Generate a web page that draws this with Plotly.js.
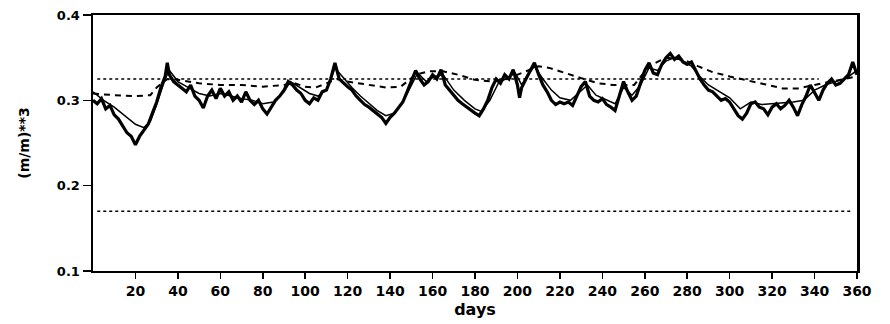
<!DOCTYPE html>
<html>
<head>
<meta charset="utf-8">
<script src="https://cdn.plot.ly/plotly-3.0.1.min.js"></script>
<style>html,body{margin:0;padding:0;background:#fff;}#chart{width:890px;height:324px;}</style>
</head>
<body>
<div id="chart"></div>
<script>
// Observed soil moisture (thick line)
const obsDays = [0,2,4,6,8,10,12,14,16,18,20,22,24,26,28,30,32,34,35,36,38,40,42,44,46,48,50,52,54,56,58,60,62,64,66,68,70,72,74,76,78,80,82,84,86,88,90,92,94,96,98,100,102,104,106,108,110,112,114,116,118,120,122,124,126,128,130,132,134,136,138,140,142,144,146,148,150,152,154,156,158,160,162,164,166,168,170,172,174,176,178,180,182,184,186,188,190,192,194,196,198,200,201,202,204,206,208,210,212,214,216,218,220,222,224,226,228,230,232,234,236,238,240,242,244,246,248,250,252,254,256,258,260,262,264,266,268,270,272,274,276,278,280,282,284,286,288,290,292,294,296,298,300,302,304,306,308,310,312,314,316,318,320,322,324,326,328,330,332,334,336,338,340,342,344,346,348,350,352,354,356,358,360];
const obsVals = [0.300,0.296,0.302,0.290,0.294,0.283,0.278,0.270,0.262,0.258,0.248,0.258,0.265,0.272,0.285,0.298,0.315,0.328,0.344,0.330,0.322,0.318,0.315,0.310,0.318,0.305,0.300,0.291,0.305,0.312,0.302,0.314,0.305,0.310,0.300,0.305,0.298,0.310,0.300,0.295,0.300,0.290,0.284,0.292,0.300,0.305,0.312,0.322,0.318,0.312,0.308,0.300,0.296,0.303,0.300,0.310,0.312,0.325,0.344,0.325,0.320,0.316,0.312,0.305,0.300,0.295,0.292,0.288,0.284,0.280,0.273,0.280,0.285,0.292,0.298,0.310,0.322,0.335,0.325,0.318,0.322,0.330,0.325,0.336,0.318,0.312,0.305,0.300,0.296,0.292,0.288,0.285,0.282,0.290,0.300,0.315,0.325,0.320,0.330,0.325,0.336,0.318,0.303,0.315,0.325,0.335,0.344,0.330,0.318,0.310,0.300,0.295,0.298,0.296,0.298,0.294,0.305,0.316,0.322,0.305,0.300,0.298,0.302,0.295,0.292,0.288,0.305,0.322,0.310,0.300,0.305,0.320,0.335,0.344,0.332,0.330,0.342,0.350,0.355,0.348,0.352,0.345,0.342,0.345,0.335,0.325,0.318,0.312,0.310,0.305,0.300,0.302,0.298,0.290,0.282,0.278,0.285,0.296,0.298,0.292,0.290,0.283,0.292,0.296,0.290,0.294,0.300,0.292,0.282,0.295,0.305,0.318,0.308,0.300,0.312,0.320,0.325,0.318,0.320,0.325,0.330,0.345,0.330];

// Model 1 (thin solid line)
const modelADays = [0,5,10,15,20,24,27,30,34,36,40,45,50,55,60,65,70,75,80,85,90,93,97,102,106,110,114,118,122,126,130,134,138,142,146,150,153,157,161,165,170,175,180,183,187,191,195,199,202,205,208,212,216,220,225,230,233,237,242,246,250,254,258,262,266,270,274,278,282,286,290,295,300,305,310,315,320,325,330,335,340,345,350,355,360];
const modelAVals = [0.310,0.300,0.292,0.282,0.272,0.268,0.275,0.295,0.325,0.335,0.322,0.315,0.308,0.305,0.308,0.305,0.302,0.300,0.296,0.298,0.310,0.322,0.316,0.308,0.305,0.312,0.338,0.326,0.315,0.305,0.296,0.288,0.282,0.285,0.298,0.318,0.332,0.322,0.328,0.330,0.312,0.300,0.290,0.287,0.300,0.320,0.326,0.332,0.318,0.330,0.340,0.325,0.312,0.303,0.300,0.312,0.318,0.306,0.300,0.296,0.315,0.306,0.318,0.338,0.335,0.346,0.350,0.346,0.340,0.328,0.318,0.310,0.303,0.290,0.298,0.295,0.296,0.297,0.298,0.300,0.312,0.318,0.322,0.326,0.335];

// Model 2 (dashed line)
const modelBDays = [0,10,20,27,30,35,40,50,60,70,80,90,95,100,105,112,115,120,130,138,145,152,158,165,172,180,188,195,205,210,215,222,230,238,245,255,262,270,278,285,292,300,310,318,325,332,340,348,355,360];
const modelBVals = [0.308,0.306,0.305,0.306,0.315,0.325,0.324,0.320,0.318,0.318,0.316,0.318,0.320,0.316,0.315,0.322,0.325,0.322,0.318,0.315,0.316,0.330,0.334,0.334,0.330,0.324,0.322,0.325,0.335,0.340,0.338,0.332,0.326,0.320,0.318,0.318,0.340,0.350,0.348,0.340,0.333,0.328,0.322,0.318,0.314,0.314,0.318,0.322,0.325,0.328];

// Reference levels (dotted)
const upperLevelDays = [2,342];
const upperLevel = [0.325,0.325];
const lowerLevelDays = [2,358];
const lowerLevel = [0.170,0.170];

const xTickVals = [20,40,60,80,100,120,140,160,180,200,220,240,260,280,300,320,340,360];
const xTickText = ['20','40','60','80','100','120','140','160','180','200','220','240','260','280','300','320','340','360'];
const yTickVals = [0.1,0.2,0.3,0.4];
const yTickText = ['0.1','0.2','0.3','0.4'];

const font = 'DejaVu Sans, Arial, sans-serif';

const traces = [
  {x: upperLevelDays, y: upperLevel, mode:'lines', line:{color:'#000', width:1.3, dash:'dot'}, hoverinfo:'skip'},
  {x: lowerLevelDays, y: lowerLevel, mode:'lines', line:{color:'#000', width:1.3, dash:'dot'}, hoverinfo:'skip'},
  {x: modelBDays, y: modelBVals, mode:'lines', line:{color:'#000', width:2, dash:'6px,5px'}},
  {x: modelADays, y: modelAVals, mode:'lines', line:{color:'#000', width:1.5}},
  {x: obsDays, y: obsVals, mode:'lines', line:{color:'#000', width:3.2}}
];

const layout = {
  width: 890, height: 324,
  margin: {l:93, r:33, t:15, b:53},
  paper_bgcolor:'#fff', plot_bgcolor:'#fff',
  showlegend:false,
  font:{family:font, color:'#000'},
  xaxis: {
    range:[0,360], tickvals:xTickVals, ticktext:xTickText,
    ticks:'outside', ticklen:6, tickwidth:1.5, tickcolor:'#000',
    showline:true, linecolor:'#000', linewidth:2, mirror:true,
    showgrid:false, zeroline:false,
    tickfont:{family:font, size:14, weight:'bold', color:'#000'},
    title:{text:'days', font:{family:font, size:16, weight:'bold', color:'#000'}, standoff:6}
  },
  yaxis: {
    range:[0.1,0.4], tickvals:yTickVals, ticktext:yTickText,
    ticks:'outside', ticklen:8, tickwidth:1.5, tickcolor:'#000',
    showline:true, linecolor:'#000', linewidth:2.5, mirror:true,
    showgrid:false, zeroline:false,
    tickfont:{family:font, size:13, weight:'bold', color:'#000'},
    title:{text:'(m/m)**3', font:{family:font, size:14, weight:'bold', color:'#000'}, standoff:24}
  }
};

Plotly.newPlot('chart', traces, layout, {displayModeBar:false, staticPlot:true});
</script>
</body>
</html>
